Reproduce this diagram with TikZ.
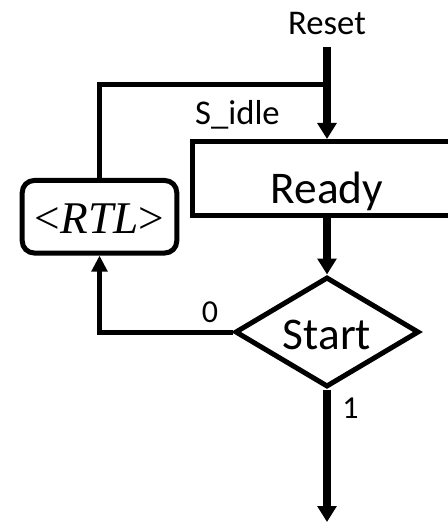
\documentclass[tikz,border=0pt]{standalone}
\usepackage{fontspec}
\setmainfont{Carlito}
\newfontfamily\serifrm{Liberation Serif}
\usetikzlibrary{arrows.meta,shapes.geometric}
\tikzset{
  box/.style={draw, line width=3.75pt, outer sep=1.875pt, inner sep=0pt},
  thinline/.style={line width=3.75pt},
  mainline/.style={line width=6pt},
  bigtip/.style={-{Triangle[length=12pt,width=14pt]}},
  smalltip/.style={-{Triangle[length=12pt,width=11.5pt]}},
  lbl/.style={font=\fontsize{26}{30}\selectfont, inner sep=0pt, anchor=base},
}
\begin{document}
\begin{tikzpicture}[x=0.75pt,y=-0.75pt]
\useasboundingbox (0,0) rectangle (447,524);
% nodes
\node[lbl] (reset) at (327,35) {Reset};
\node[box, minimum width=201.75pt, minimum height=55.5pt,
      font=\fontsize{34}{40}\selectfont, text height=36.75pt, text depth=0pt] (ready) at (327,178.5) {Ready};
\node[box, rounded corners=9pt, minimum width=115.9pt, minimum height=54.4pt,
      font=\fontsize{34}{40}\selectfont\serifrm, text height=24.4pt, text depth=0pt] (rtl) at (99.5,216.75) {<\textit{RTL}>};
\node[box, diamond, aspect=1.68, minimum width=138pt, minimum height=82.5pt,
      font=\fontsize{34}{40}\selectfont, text height=25.5pt, text depth=0pt] (start) at (327,332) {Start};
\node[lbl] (sidle) at (237.5,125) {S\_idle};
\node[lbl, font=\fontsize{24}{28}\selectfont] (zero) at (210,322) {0};
\node[lbl, font=\fontsize{24}{28}\selectfont] (one) at (350.5,418) {1};
\coordinate (junc) at (327,84.5);
\coordinate (endp) at (327,522);
% connectors
\draw[mainline, bigtip] ([yshift=-9pt]reset.base) -- (ready.north);
\draw[thinline] (junc) -| (rtl.north);
\draw[mainline, bigtip] (ready.south) -- (start.north);
\draw[thinline, smalltip] (start.west) -| (rtl.south);
\draw[mainline, bigtip] (start.south) -- (endp);
\end{tikzpicture}
\end{document}
